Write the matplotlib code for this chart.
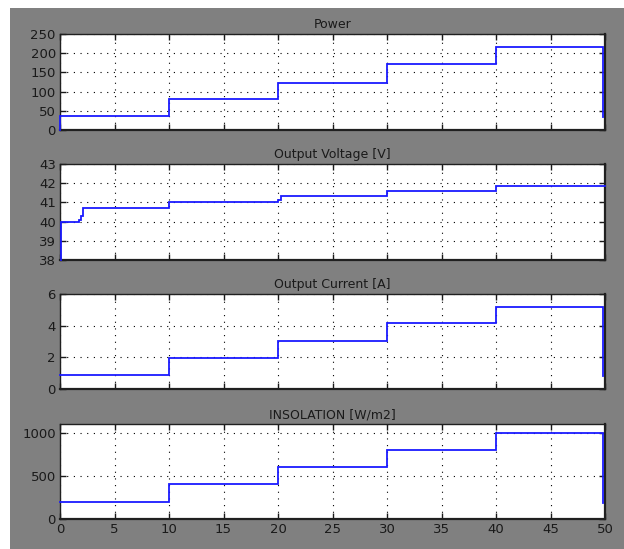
import matplotlib
matplotlib.use("Agg")
import matplotlib.pyplot as plt
from matplotlib.patches import Rectangle

# ---- data ----
t_power = [0, 0, 10, 10, 20, 20, 30, 30, 40, 40, 49.85, 49.85, 49.85]
power = [0, 37, 37, 80, 80, 123, 123, 172, 172, 215, 215, 125, 35]

t_volt = [0.1, 0.1, 1.7, 1.7, 1.9, 1.9, 2.1, 2.1, 10, 10, 20, 20, 20.3, 20.3, 30, 30, 40, 40, 50]
volt = [38, 40, 40, 40.1, 40.1, 40.3, 40.3, 40.7, 40.7, 41.0, 41.0, 41.15, 41.15, 41.32, 41.32, 41.6, 41.6, 41.87, 41.87]

t_curr = [0, 0, 10, 10, 20, 20, 30, 30, 40, 40, 49.85, 49.85, 49.85]
curr = [0.9, 0.9, 0.9, 1.98, 1.98, 3.05, 3.05, 4.15, 4.15, 5.16, 5.16, 3.0, 0.8]

t_ins = [0, 10, 10, 20, 20, 30, 30, 40, 40, 49.85, 49.85]
ins = [200, 200, 400, 400, 600, 600, 800, 800, 1000, 1000, 180]

titles = ["Power", "Output Voltage [V]", "Output Current [A]", "INSOLATION [W/m2]"]
xticks = [0, 5, 10, 15, 20, 25, 30, 35, 40, 45, 50]
yticks_list = [[0, 50, 100, 150, 200, 250], [38, 39, 40, 41, 42, 43], [0, 2, 4, 6], [0, 500, 1000]]
ylims = [(0, 250), (38, 43), (0, 6), (0, 1100)]

series = [(t_power, power), (t_volt, volt), (t_curr, curr), (t_ins, ins)]

fig = plt.figure(figsize=(6.24, 5.49), dpi=100)
fig.patch.set_facecolor("white")
fig.add_artist(Rectangle((10 / 624, 0), 1 - 10 / 624, 1 - 8 / 549, transform=fig.transFigure,
                         facecolor="#808080", edgecolor="none", zorder=0))

W, H = 624, 549
left, right = 60, 605
tops = [34, 164, 294, 424]
bottoms = [130, 260, 389, 519]

for i in range(4):
    ax = fig.add_axes([left / W, 1 - bottoms[i] / H, (right - left) / W, (bottoms[i] - tops[i]) / H])
    ax.set_facecolor("white")
    x, y = series[i]
    ax.plot(x, y, color="#1a1aff", lw=1.3, solid_joinstyle="miter", clip_on=False, zorder=3)
    ax.set_xlim(0, 50)
    ax.set_ylim(*ylims[i])
    ax.set_xticks(xticks)
    ax.set_yticks(yticks_list[i])
    ax.grid(True, color="black", linestyle=(0, (1, 5)), lw=0.8)
    ax.tick_params(direction="in", length=4, width=1, top=True, right=True,
                   labelsize=9.5, labelcolor="#1a1a1a", colors="#1a1a1a", pad=3)
    if i < 3:
        ax.set_xticklabels([])
    for s in ax.spines.values():
        s.set_color("#202020")
        s.set_linewidth(1.0)
    ax.spines["right"].set_linewidth(1.6)
    ax.spines["bottom"].set_linewidth(1.6)
    ax.set_title(titles[i], fontsize=9, color="#1a1a1a", pad=4)

fig.savefig("out.png", dpi=100, facecolor="white")
